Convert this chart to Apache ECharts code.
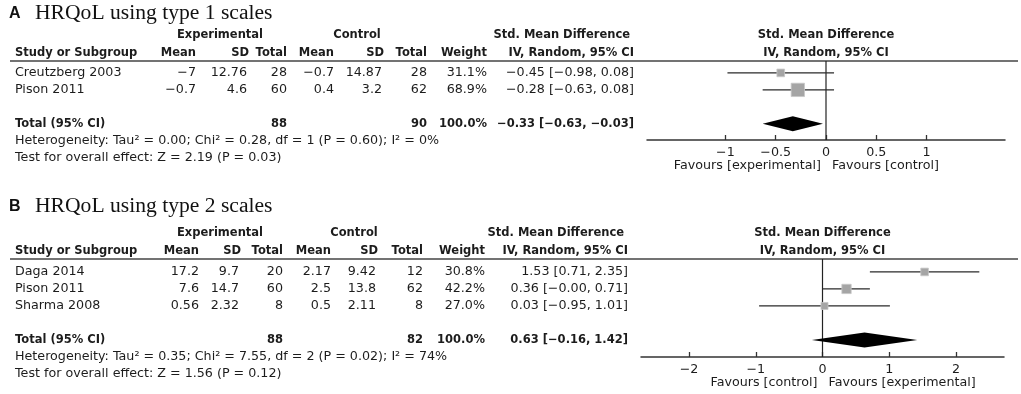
<!DOCTYPE html>
<html>
<head>
<meta charset="utf-8">
<script src="https://cdn.jsdelivr.net/npm/echarts@6/dist/echarts.min.js"></script>
<style>
html, body { margin: 0; padding: 0; background: #fff; }
#chart { width: 1021px; height: 394px; }
</style>
</head>
<body>
<div id="chart"></div>
<script>
// ---- panel A: HRQoL using type 1 scales ----
const studiesA = [ 'Creutzberg 2003', 'Pison 2011' ];
const expMeanA = [ -7, -0.7 ];
const expSdA = [ 12.76, 4.6 ];
const expNA = [ 28, 60 ];
const ctlMeanA = [ -0.7, 0.4 ];
const ctlSdA = [ 14.87, 3.2 ];
const ctlNA = [ 28, 62 ];
const weightA = [ 31.1, 68.9 ];
const smdA = [ -0.45, -0.28 ];
const loA = [ -0.98, -0.63 ];
const hiA = [ 0.08, 0.08 ];
const totalA = [ 88, 90, -0.33, -0.63, -0.03 ]; // exp N, ctl N, SMD, lo, hi
const hetA = 'Heterogeneity: Tau² = 0.00; Chi² = 0.28, df = 1 (P = 0.60); I² = 0%';
const testA = 'Test for overall effect: Z = 2.19 (P = 0.03)';
const ticksA = [ -1, -0.5, 0, 0.5, 1 ];

// ---- panel B: HRQoL using type 2 scales ----
const studiesB = [ 'Daga 2014', 'Pison 2011', 'Sharma 2008' ];
const expMeanB = [ 17.2, 7.6, 0.56 ];
const expSdB = [ 9.7, 14.7, 2.32 ];
const expNB = [ 20, 60, 8 ];
const ctlMeanB = [ 2.17, 2.5, 0.5 ];
const ctlSdB = [ 9.42, 13.8, 2.11 ];
const ctlNB = [ 12, 62, 8 ];
const weightB = [ 30.8, 42.2, 27.0 ];
const smdB = [ 1.53, 0.36, 0.03 ];
const loB = [ 0.71, -0, -0.95 ];
const hiB = [ 2.35, 0.71, 1.01 ];
const totalB = [ 88, 82, 0.63, -0.16, 1.42 ];
const hetB = 'Heterogeneity: Tau² = 0.35; Chi² = 7.55, df = 2 (P = 0.02); I² = 74%';
const testB = 'Test for overall effect: Z = 1.56 (P = 0.12)';
const ticksB = [ -2, -1, 0, 1, 2 ];

const FONT = '"DejaVu Sans", sans-serif';
const INK = '#1c1c1c';
const MINUS = '\u2212';

const sign = ( v ) => ( v < 0 || Object.is( v, -0 ) ) ? MINUS : '';
const num = ( v ) => sign( v ) + String( Math.abs( v ) );
const fix2 = ( v ) => sign( v ) + Math.abs( v ).toFixed( 2 );
const ci = ( e, l, h ) => `${ fix2( e ) } [${ fix2( l ) }, ${ fix2( h ) }]`;

const panels = [
	{
		letter: 'A', title: 'HRQoL using type 1 scales', titleY: 13,
		headY: [ 35, 53 ], lineY: 61, favY: 166,
		grid: { left: 647, top: 61, width: 358, height: 79 },
		xMin: -1.78, xMax: 1.78, yMin: -0.7, yMax: 3.95, ticks: ticksA,
		cols: [ 196, 247, 287, 334, 382, 427, 487, 634 ], groupX: [ 220, 357 ],
		favours: [ 'Favours [experimental]', 'Favours [control]' ],
		studies: studiesA, expMean: expMeanA, expSd: expSdA, expN: expNA,
		ctlMean: ctlMeanA, ctlSd: ctlSdA, ctlN: ctlNA, weight: weightA,
		smd: smdA, lo: loA, hi: hiA, total: totalA, het: hetA, test: testA
	},
	{
		letter: 'B', title: 'HRQoL using type 2 scales', titleY: 206,
		headY: [ 233, 251 ], lineY: 259, favY: 383,
		grid: { left: 641, top: 259, width: 363, height: 98 },
		xMin: -2.72, xMax: 2.72, yMin: -0.76, yMax: 5.0, ticks: ticksB,
		cols: [ 199, 239, 283, 331, 376, 423, 485, 628 ], groupX: [ 220, 354 ],
		favours: [ 'Favours [control]', 'Favours [experimental]' ],
		studies: studiesB, expMean: expMeanB, expSd: expSdB, expN: expNB,
		ctlMean: ctlMeanB, ctlSd: ctlSdB, ctlN: ctlNB, weight: weightB,
		smd: smdB, lo: loB, hi: hiB, total: totalB, het: hetB, test: testB
	}
];

const text = ( x, y, str, align ) => ( {
	type: 'text', x, y, silent: true,
	style: {
		text: str, fill: INK, font: '12.7px ' + FONT,
		align, verticalAlign: 'middle', textAlign: align, textVerticalAlign: 'middle'
	}
} );
const bold = ( x, y, str, align ) => {
	const t = text( x, y, str, align );
	t.style.font = 'bold 11.5px ' + FONT;
	return t;
};

// rows of the table, with their row index on the y axis
const tableRows = ( p ) => {
	const n = p.studies.length;
	const rows = p.studies.map( ( s, i ) => ( {
		row: i, label: s,
		cells: [ num( p.expMean[ i ] ), num( p.expSd[ i ] ), String( p.expN[ i ] ),
			num( p.ctlMean[ i ] ), num( p.ctlSd[ i ] ), String( p.ctlN[ i ] ),
			p.weight[ i ].toFixed( 1 ) + '%', ci( p.smd[ i ], p.lo[ i ], p.hi[ i ] ) ]
	} ) );
	rows.push( {
		row: n + 1, label: 'Total (95% CI)', bold: true,
		cells: [ '', '', String( p.total[ 0 ] ), '', '', String( p.total[ 1 ] ), '100.0%',
			ci( p.total[ 2 ], p.total[ 3 ], p.total[ 4 ] ) ]
	} );
	rows.push( { row: n + 1.97, label: p.het, cells: [] } );
	rows.push( { row: n + 3, label: p.test, cells: [] } );
	return rows;
};

const grids = [];
const xAxes = [];
const yAxes = [];
const series = [];
const graphics = [];

panels.forEach( ( p, k ) => {
	grids.push( Object.assign( { containLabel: false }, p.grid ) );
	xAxes.push( {
		gridIndex: k, type: 'value', min: p.xMin, max: p.xMax,
		axisLine: { onZero: false, lineStyle: { color: '#333', width: 1.5 } },
		axisTick: { inside: true, length: 5, customValues: p.ticks, lineStyle: { color: '#333', width: 1.3 } },
		axisLabel: {
			customValues: p.ticks, margin: 6, color: INK, fontFamily: FONT, fontSize: 12.7,
			formatter: ( v ) => num( v )
		},
		splitLine: { show: false }
	} );
	yAxes.push( { gridIndex: k, type: 'value', inverse: true, min: p.yMin, max: p.yMax, show: false } );

	// zero line
	series.push( {
		type: 'custom', xAxisIndex: k, yAxisIndex: k, z: 1, silent: true,
		data: [ [ 0 ] ],
		renderItem: ( params, api ) => {
			const a = api.coord( [ 0, p.yMin ] );
			const b = api.coord( [ 0, p.yMax ] );
			return { type: 'line', shape: { x1: a[ 0 ], y1: a[ 1 ], x2: b[ 0 ], y2: b[ 1 ] },
				style: { stroke: '#222', lineWidth: 1.2 } };
		}
	} );

	// study CIs and squares
	series.push( {
		type: 'custom', xAxisIndex: k, yAxisIndex: k, z: 3, silent: true,
		data: p.studies.map( ( s, i ) => [ p.smd[ i ], p.lo[ i ], p.hi[ i ], i, p.weight[ i ] ] ),
		renderItem: ( params, api ) => {
			const r = api.value( 3 );
			const pe = api.coord( [ api.value( 0 ), r ] );
			const pl = api.coord( [ api.value( 1 ), r ] );
			const ph = api.coord( [ api.value( 2 ), r ] );
			const s = 3 + 0.15 * api.value( 4 );
			return { type: 'group', children: [
				{ type: 'line', shape: { x1: pl[ 0 ], y1: pl[ 1 ], x2: ph[ 0 ], y2: ph[ 1 ] },
					style: { stroke: '#2a2a2a', lineWidth: 1.3 } },
				{ type: 'rect', shape: { x: pe[ 0 ] - s / 2, y: pe[ 1 ] - s / 2, width: s, height: s },
					style: { fill: '#a5a5a5', stroke: '#c8c8c8', lineWidth: 0.8 } }
			] };
		}
	} );

	// pooled diamond
	series.push( {
		type: 'custom', xAxisIndex: k, yAxisIndex: k, z: 3, silent: true,
		data: [ [ p.total[ 2 ], p.total[ 3 ], p.total[ 4 ], p.studies.length + 1 ] ],
		renderItem: ( params, api ) => {
			const r = api.value( 3 );
			const c = api.coord( [ api.value( 0 ), r ] );
			const l = api.coord( [ api.value( 1 ), r ] );
			const h = api.coord( [ api.value( 2 ), r ] );
			return { type: 'polygon',
				shape: { points: [ [ l[ 0 ], c[ 1 ] ], [ c[ 0 ], c[ 1 ] - 7.5 ], [ h[ 0 ], c[ 1 ] ], [ c[ 0 ], c[ 1 ] + 7.5 ] ] },
				style: { fill: '#000' } };
		}
	} );

	// table text, rows placed with the same y axis as the marks
	const rows = tableRows( p );
	series.push( {
		type: 'custom', xAxisIndex: k, yAxisIndex: k, z: 2, silent: true, clip: false,
		data: rows.map( ( r ) => [ 0, r.row ] ),
		renderItem: ( params, api ) => {
			const r = rows[ params.dataIndex ];
			const y = api.coord( [ 0, api.value( 1 ) ] )[ 1 ];
			const mk = r.bold ? bold : text;
			const children = [ mk( 15, y, r.label, 'left' ) ];
			r.cells.forEach( ( c, j ) => {
				if ( c ) {
					children.push( mk( p.cols[ j ], y, c, 'right' ) );
				}
			} );
			return { type: 'group', children };
		}
	} );

	// title and headers
	graphics.push( {
		type: 'text', x: 9, y: p.titleY + 1, silent: true,
		style: { text: p.letter, fill: '#111', font: 'bold 16px "Liberation Sans", sans-serif',
			align: 'left', verticalAlign: 'middle', textAlign: 'left', textVerticalAlign: 'middle' }
	} );
	graphics.push( {
		type: 'text', x: 35, y: p.titleY, silent: true,
		style: { text: p.title, fill: '#111', font: '21.6px "Liberation Serif", serif',
			align: 'left', verticalAlign: 'middle', textAlign: 'left', textVerticalAlign: 'middle' }
	} );
	const [ h1, h2 ] = p.headY;
	graphics.push( bold( p.groupX[ 0 ], h1, 'Experimental', 'center' ) );
	graphics.push( bold( p.groupX[ 1 ], h1, 'Control', 'center' ) );
	graphics.push( bold( p.cols[ 7 ] - 4, h1, 'Std. Mean Difference', 'right' ) );
	graphics.push( bold( 15, h2, 'Study or Subgroup', 'left' ) );
	[ 'Mean', 'SD', 'Total', 'Mean', 'SD', 'Total', 'Weight', 'IV, Random, 95% CI' ].forEach( ( h, j ) => {
		graphics.push( bold( p.cols[ j ] + ( j === 1 || j === 4 ? 2 : 0 ), h2, h, 'right' ) );
	} );
	graphics.push( {
		type: 'line', silent: true,
		shape: { x1: 10, y1: p.lineY, x2: 1018, y2: p.lineY },
		style: { stroke: '#444', lineWidth: 1.3 }
	} );
} );

const chart = echarts.init( document.getElementById( 'chart' ), null, { renderer: 'canvas' } );
chart.setOption( {
	animation: false,
	backgroundColor: '#fff',
	grid: grids,
	xAxis: xAxes,
	yAxis: yAxes,
	series,
	graphic: graphics
} );

// plot headers and "Favours" labels sit on the zero line of each plot
panels.forEach( ( p, k ) => {
	const zx = chart.convertToPixel( { gridIndex: k }, [ 0, 0 ] )[ 0 ];
	graphics.push( bold( zx, p.headY[ 0 ], 'Std. Mean Difference', 'center' ) );
	graphics.push( bold( zx, p.headY[ 1 ], 'IV, Random, 95% CI', 'center' ) );
	graphics.push( text( zx - 5, p.favY, p.favours[ 0 ], 'right' ) );
	graphics.push( text( zx + 6, p.favY, p.favours[ 1 ], 'left' ) );
} );
chart.setOption( { graphic: graphics } );
</script>
</body>
</html>
